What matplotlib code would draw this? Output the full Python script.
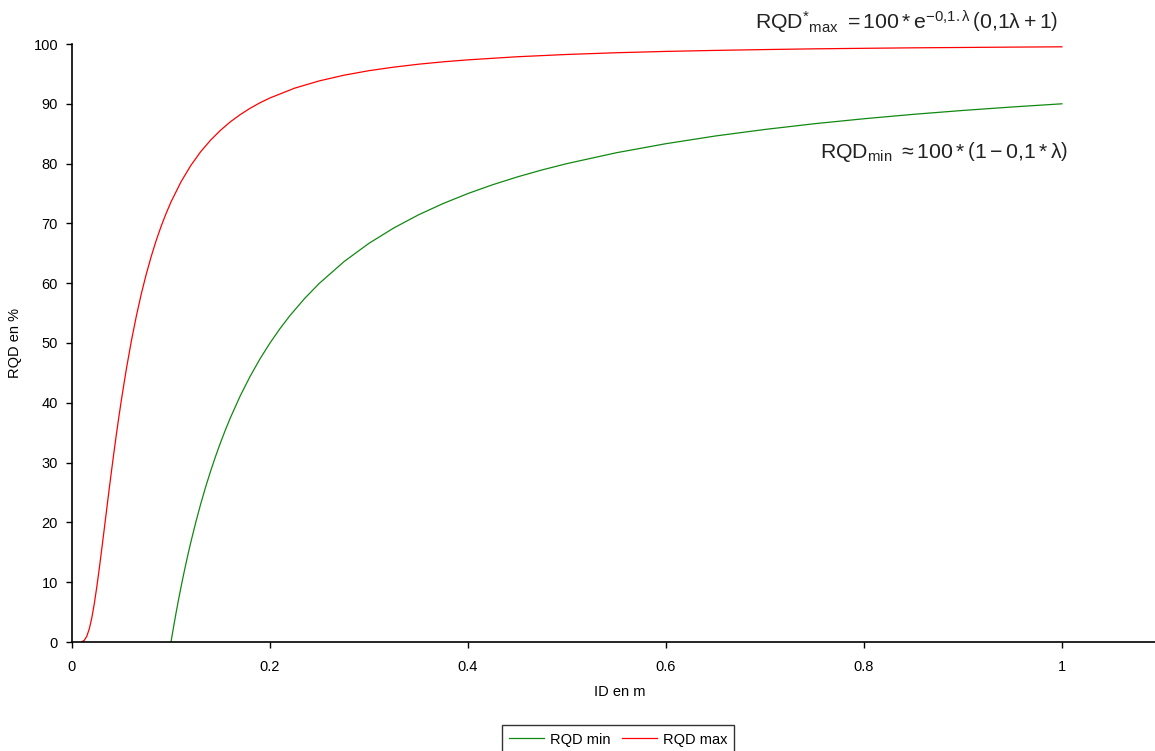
import matplotlib.pyplot as plt

plt.rcParams['font.family'] = ['Liberation Sans', 'DejaVu Sans']
plt.rcParams['mathtext.fontset'] = 'custom'
plt.rcParams['mathtext.rm'] = 'Liberation Sans'
plt.rcParams['mathtext.it'] = 'Liberation Sans'

# values
id_min = [0.1, 0.1025, 0.105, 0.1075, 0.11, 0.1125, 0.115, 0.1175, 0.12, 0.125, 0.13, 0.135,
          0.14, 0.145, 0.15, 0.155, 0.16, 0.17, 0.18, 0.19, 0.2, 0.21, 0.22, 0.235, 0.25,
          0.275, 0.3, 0.325, 0.35, 0.375, 0.4, 0.425, 0.45, 0.475, 0.5, 0.55, 0.6, 0.65,
          0.7, 0.75, 0.8, 0.85, 0.9, 0.95, 1.0]
rqd_min = [0.0, 2.44, 4.76, 6.98, 9.09, 11.11, 13.04, 14.89, 16.67, 20.0, 23.08, 25.93,
           28.57, 31.03, 33.33, 35.48, 37.5, 41.18, 44.44, 47.37, 50.0, 52.38, 54.55, 57.45, 60.0,
           63.64, 66.67, 69.23, 71.43, 73.33, 75.0, 76.47, 77.78, 78.95, 80.0, 81.82, 83.33, 84.62,
           85.71, 86.67, 87.5, 88.24, 88.89, 89.47, 90.0]

id_max = [0.01, 0.0125, 0.015, 0.0175, 0.02, 0.0225, 0.025, 0.0275, 0.03, 0.0325, 0.035,
          0.0375, 0.04, 0.0425, 0.045, 0.0475, 0.05, 0.055, 0.06, 0.065, 0.07, 0.075, 0.08,
          0.085, 0.09, 0.095, 0.1, 0.11, 0.12, 0.13, 0.14, 0.15, 0.16, 0.17, 0.18, 0.19, 0.2,
          0.225, 0.25, 0.275, 0.3, 0.325, 0.35, 0.375, 0.4, 0.45, 0.5, 0.55, 0.6, 0.65, 0.7,
          0.75, 0.8, 0.85, 0.9, 0.95, 1.0]
rqd_max = [0.05, 0.30, 0.98, 2.22, 4.04, 6.39, 9.16, 12.22, 15.46, 18.79, 22.15,
           25.48, 28.73, 31.88, 34.93, 37.82, 40.6, 45.74, 50.37, 54.5, 58.22, 61.5, 64.46,
           67.12, 69.5, 71.64, 73.58, 76.92, 79.68, 81.99, 83.92, 85.57, 86.99, 88.2, 89.26, 90.18, 90.98,
           92.62, 93.84, 94.79, 95.54, 96.13, 96.62, 97.02, 97.35, 97.87, 98.25, 98.54, 98.76, 98.93, 99.07,
           99.19, 99.28, 99.36, 99.42, 99.48, 99.53]

xticks = [0, 0.2, 0.4, 0.6, 0.8, 1]
xlabels = ['0', '0.2', '0.4', '0.6', '0.8', '1']
yticks = list(range(0, 101, 10))

fig = plt.figure(figsize=(11.55, 7.51), dpi=100)
ax = fig.add_axes([72 / 1155, 109 / 751, 1 - 72 / 1155, 598 / 751])

ax.plot(id_min, rqd_min, color='#118811', lw=0.9, label='RQD min')
ax.plot(id_max, rqd_max, color='#ff0000', lw=0.9, label='RQD max')

ax.set_xlim(0, 1.094)
ax.set_ylim(0, 100)
ax.set_xticks(xticks)
ax.set_xticklabels(xlabels)
ax.set_yticks(yticks)
ax.tick_params(direction='out', length=4, width=1, labelsize=10.5, colors='black')
ax.tick_params(axis='x', pad=9)
ax.tick_params(axis='y', pad=6)
for s in ['top', 'right']:
    ax.spines[s].set_visible(False)
for s in ['left', 'bottom']:
    ax.spines[s].set_linewidth(1.2)

fig.text(15 / 1155, 1 - 343 / 751, 'RQD en %', rotation=90, ha='center', va='center', fontsize=10.5)
fig.text(620 / 1155, 1 - 692 / 751, 'ID en m', ha='center', va='center', fontsize=10.5)

fig.text(907 / 1155, 1 - 22 / 751,
         r'$\mathrm{RQD}^{*}{}_{\mathrm{max}}\ = 100 * \mathrm{e}^{-0{,}1.\lambda}\,\left(0{,}1\lambda + 1\right)$',
         ha='center', va='center', fontsize=15.3, color='#222222')
fig.text(944 / 1155, 1 - 152 / 751,
         r'$\mathrm{RQD}_{\mathrm{min}}\ \approx 100 * \left(1 - 0{,}1 * \lambda\right)$',
         ha='center', va='center', fontsize=15.3, color='#222222')

leg = fig.legend(loc='upper center', bbox_to_anchor=(618 / 1155, 1 - 718 / 751), ncol=2,
                 fontsize=10.5, frameon=True, fancybox=False, edgecolor='black',
                 handlelength=2.4, columnspacing=0.8, borderpad=0.5, handletextpad=0.4)
leg.get_frame().set_linewidth(1.0)

fig.savefig('out.png', dpi=100)
